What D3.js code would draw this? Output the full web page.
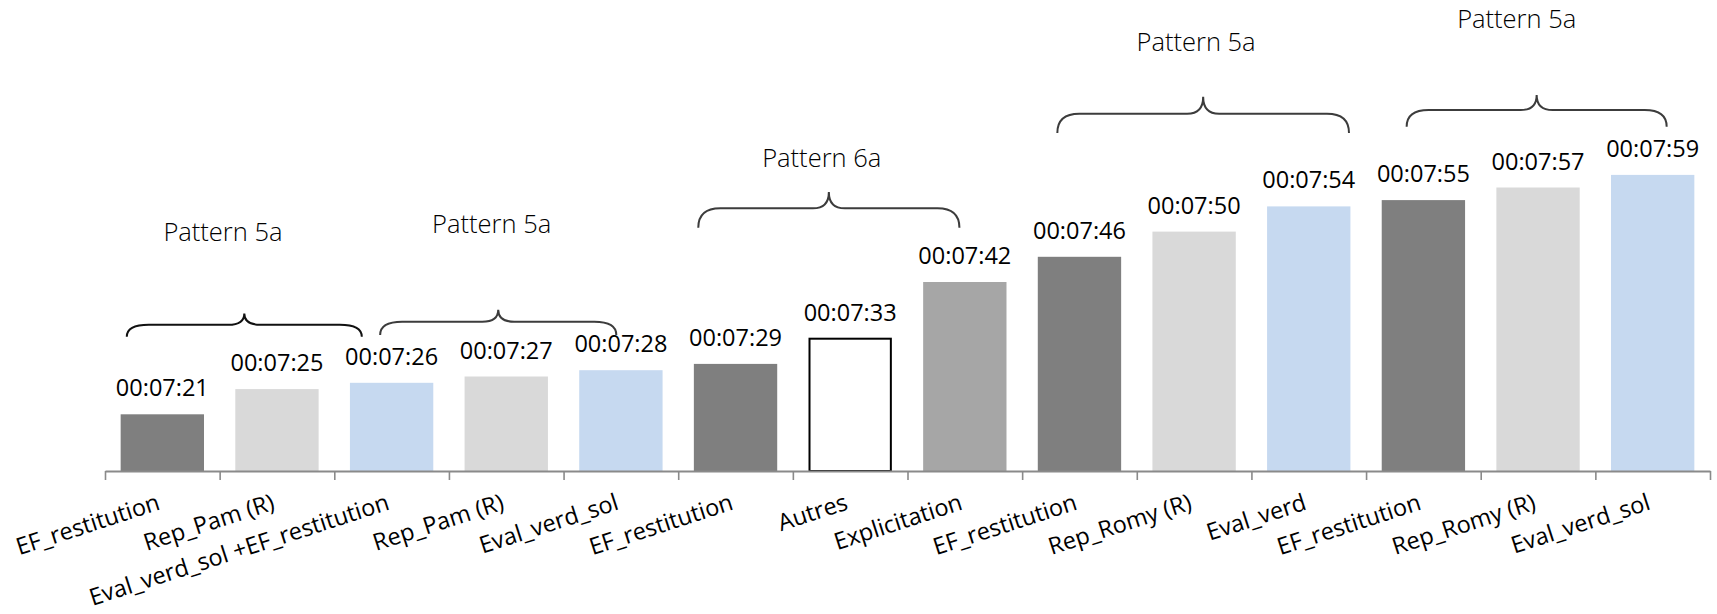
<!DOCTYPE html>
<html>
<head>
<meta charset="utf-8">
<script src="https://cdn.jsdelivr.net/npm/d3@7"></script>
<style>
  html, body { margin: 0; padding: 0; background: #ffffff; overflow: hidden; }
  svg { display: block; }
</style>
</head>
<body>
<script>
// ---- Data ----
const categories = ["EF_restitution", "Rep_Pam (R)", "Eval_verd_sol +EF_restitution", "Rep_Pam (R)",
  "Eval_verd_sol", "EF_restitution", "Autres", "Explicitation", "EF_restitution", "Rep_Romy (R)",
  "Eval_verd", "EF_restitution", "Rep_Romy (R)", "Eval_verd_sol"];
// durations in seconds (00:07:21 = 441 s)
const durations = [441, 445, 446, 447, 448, 449, 453, 462, 466, 470, 474, 475, 477, 479];
const barKinds = ["ef", "rep", "eval", "rep", "eval", "ef", "autres", "expl", "ef", "rep", "eval", "ef", "rep", "eval"];
const patternLabels = ["Pattern 5a", "Pattern 5a", "Pattern 6a", "Pattern 5a", "Pattern 5a"];
// brace annotations: x in category units, y in seconds
const braceStart = [0.19, 2.40, 5.175, 8.307, 11.354];
const braceEnd   = [2.24, 4.46, 7.453, 10.851, 13.622];
const braceTipY  = [453.3, 453.6, 470.6, 485.65, 486.65];
const braceLineY = [455.2, 455.7, 473.7, 488.7, 489.3];
const bracePeakY = [457.0, 457.6, 476.3, 491.4, 491.7];
const patternX   = [1.029, 3.373, 6.252, 9.517, 12.314];
const patternY   = [468.5, 469.7, 480.3, 498.6, 502.3];

// ---- Styles ----
const kindFill = { ef: "#7f7f7f", rep: "#d9d9d9", eval: "#c6d9f0", autres: "#ffffff", expl: "#a6a6a6" };
const braceColor = ["#111111", "#3c3c3c", "#3c3c3c", "#3c3c3c", "#3c3c3c"];
const FONT = "'Open Sans', 'Noto Sans', sans-serif";

const W = 1717, H = 614;
const n = categories.length;
const svg = d3.select("body").append("svg").attr("width", W).attr("height", H);

const x = d3.scaleBand().domain(d3.range(n)).range([105, 1710]).paddingInner(0.273).paddingOuter(0.1365);
const xb = d3.scaleLinear().domain([0, n]).range([105, 1710]);
const y = d3.scaleLinear().domain([432, 480]).range([471, 471 - 48 * 6.3]);

const fmt = s => {
  const h = Math.floor(s / 3600), m = Math.floor((s % 3600) / 60), sec = s % 60;
  return [h, m, sec].map(v => String(v).padStart(2, "0")).join(":");
};

// Bars
svg.append("g").selectAll("rect").data(durations).join("rect")
  .attr("x", (d, i) => x(i) + (barKinds[i] === "autres" ? 1 : 0))
  .attr("y", d => y(d))
  .attr("width", (d, i) => x.bandwidth() - (barKinds[i] === "autres" ? 2 : 0))
  .attr("height", d => y(432) - y(d))
  .attr("fill", (d, i) => kindFill[barKinds[i]])
  .attr("stroke", (d, i) => barKinds[i] === "autres" ? "#000" : "none")
  .attr("stroke-width", 2);

// Axis
const ax = svg.append("g").attr("transform", `translate(0,${y(432)})`)
  .call(d3.axisBottom(xb).tickValues(d3.range(n + 1)).tickSize(9).tickSizeOuter(0).tickFormat(() => ""));
ax.select(".domain").attr("stroke", "#8a8a8a").attr("stroke-width", 2);
ax.selectAll(".tick line").attr("stroke", "#8a8a8a").attr("stroke-width", 1.6);

// Value labels
svg.append("g").selectAll("text").data(durations).join("text")
  .attr("x", (d, i) => x(i) + x.bandwidth() / 2)
  .attr("y", d => y(d) - 18)
  .attr("text-anchor", "middle")
  .attr("font-family", FONT).attr("font-size", 23.5).attr("fill", "#000")
  .text(d => fmt(d));

// Category labels
svg.append("g").selectAll("text").data(categories).join("text")
  .attr("transform", (d, i) => `translate(${x(i) + x.bandwidth() / 2 - 1},509) rotate(-18)`)
  .attr("text-anchor", "end")
  .attr("font-family", FONT).attr("font-size", 23.5).attr("fill", "#000")
  .text(d => d);

// Braces
const bracePath = (i) => {
  const x1 = xb(braceStart[i]), x2 = xb(braceEnd[i]), xm = (x1 + x2) / 2;
  const yb = y(braceTipY[i]), yl = y(braceLineY[i]), yp = y(bracePeakY[i]);
  const r = 22, r2 = 16;
  return `M${x1},${yb} Q${x1},${yl} ${x1 + r},${yl} L${xm - r2},${yl} Q${xm},${yl} ${xm},${yp}` +
         ` Q${xm},${yl} ${xm + r2},${yl} L${x2 - r},${yl} Q${x2},${yl} ${x2},${yb}`;
};
svg.append("g").selectAll("path").data(patternLabels).join("path")
  .attr("d", (d, i) => bracePath(i))
  .attr("fill", "none")
  .attr("stroke", (d, i) => braceColor[i])
  .attr("stroke-width", 2);

// Pattern labels
svg.append("g").selectAll("text").data(patternLabels).join("text")
  .attr("x", (d, i) => xb(patternX[i]))
  .attr("y", (d, i) => y(patternY[i]))
  .attr("text-anchor", "middle")
  .attr("font-family", FONT).attr("font-weight", 300).attr("font-size", 25.5).attr("fill", "#000")
  .text(d => d);
</script>
</body>
</html>
